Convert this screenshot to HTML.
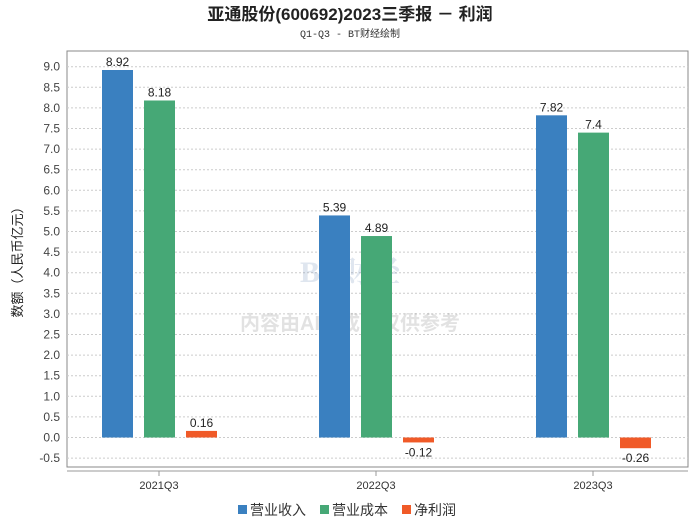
<!DOCTYPE html>
<html><head><meta charset="utf-8">
<style>
body{margin:0;background:#fff;}
svg{font-family:"Liberation Sans","Noto Sans CJK SC",sans-serif;}
</style></head>
<body>
<svg id="chart" width="700" height="524" viewBox="0 0 700 524">
<text x="350" y="20" text-anchor="middle" font-size="17" font-weight="bold" fill="#222">亚通股份(600692)2023三季报 － 利润</text>
<text x="350" y="37" text-anchor="middle" font-size="10" font-family="Liberation Mono,Noto Sans CJK SC,monospace" fill="#333">Q1-Q3 - BT财经绘制</text>
<rect x="67" y="51" width="621" height="416" fill="#fff" stroke="#888"/>
<g id="grid"></g>
<g opacity="0.18">
<text x="350" y="282" text-anchor="middle" font-size="30" font-weight="bold" fill="#5577aa" font-family="Liberation Serif,Noto Serif CJK SC,serif">BT财经</text>
<text x="350" y="330" text-anchor="middle" font-size="20" font-weight="bold" fill="#666">内容由AI生成，仅供参考</text>
</g>
<g id="bars"></g>
<line x1="67" y1="471" x2="688" y2="471" stroke="#999"/>
<g id="xaxis"></g>
<text transform="translate(22,259) rotate(-90)" text-anchor="middle" font-size="13" fill="#222">数额（人民币亿元）</text>
<g id="legend"></g>
</svg>
<script>
const categories=["2021Q3","2022Q3","2023Q3"];
const seriesNames=["营业收入","营业成本","净利润"];
const revenue=[8.92,5.39,7.82];
const cost=[8.18,4.89,7.4];
const profit=[0.16,-0.12,-0.26];
const yTicks=[-0.5,0,0.5,1,1.5,2,2.5,3,3.5,4,4.5,5,5.5,6,6.5,7,7.5,8,8.5,9];
const colors=["#3a80c0","#46a876","#f05a28"];
const NS="http://www.w3.org/2000/svg";
function y(v){return 437.5-v*41.2;}
function xc(i){return 159+i*217;}
function mk(t,a,p){const e=document.createElementNS(NS,t);for(const k in a)e.setAttribute(k,a[k]);(p||document.getElementById('chart')).appendChild(e);return e;}
const grid=document.getElementById('grid');
yTicks.forEach(v=>{
 const l=mk('line',{x1:67,x2:688,y1:y(v),y2:y(v),stroke:'#ccc','stroke-dasharray':'2,2'},grid);
 
 
 const t=mk('text',{x:60,y:y(v)+4,'text-anchor':'end','font-size':12,fill:'#444'},grid);
 t.textContent=v.toFixed(1);
 
 
});
const bars=document.getElementById('bars');
const data=[revenue,cost,profit];
const offs=[-57,-15,27];
data.forEach((s,si)=>{
 s.forEach((v,i)=>{
  const x0=xc(i)+offs[si];
  const top=Math.min(y(v),y(0)),h=Math.abs(y(v)-y(0));
  const r=mk('rect',{x:x0,y:top,width:31,height:Math.max(h,1),fill:colors[si]},bars);
  
  
  const ty=v>=0?y(v)-4:y(v)+14;
  const t=mk('text',{x:x0+15.5,y:ty,'text-anchor':'middle','font-size':12,fill:'#222'},bars);
  t.textContent=String(v);
  
  
 });
});
const xa=document.getElementById('xaxis');
categories.forEach((c,i)=>{
 const l=mk('line',{x1:xc(i),x2:xc(i),y1:471,y2:476,stroke:'#999'},xa);
 
 
 const t=mk('text',{x:xc(i),y:489,'text-anchor':'middle','font-size':11,fill:'#333'},xa);
 t.textContent=c;
 
 
});
const lg=document.getElementById('legend');
const lx=[238,320,402];
seriesNames.forEach((n,i)=>{
 const r=mk('rect',{x:lx[i],y:505,width:9,height:9,fill:colors[i]},lg);
 
 
 const t=mk('text',{x:lx[i]+12,y:515,'font-size':14,fill:'#333'},lg);
 t.textContent=n;
 
 
});
</script>
</body></html>
